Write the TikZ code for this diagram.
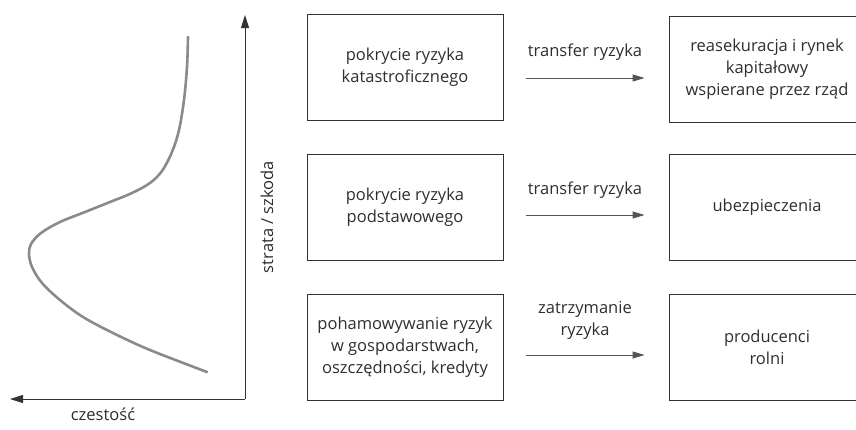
\documentclass[tikz,border=0pt]{standalone}
\usepackage{fontspec}
\setmainfont{Open Sans}
\usetikzlibrary{arrows.meta}
\definecolor{txt}{HTML}{2E2E2E}
\definecolor{boxc}{HTML}{333333}
\definecolor{arrc}{HTML}{555555}
\definecolor{curvec}{HTML}{8A8A8A}
\begin{document}
\begin{tikzpicture}[x=1pt,y=-1pt,
  box/.style={draw=boxc, line width=0.9pt, minimum width=196pt, minimum height=106pt, inner sep=0pt, align=center, text=txt, font=\fontsize{16.5}{22}\selectfont},
  lab/.style={text=txt, align=center, inner sep=0pt, font=\fontsize{16.5}{22}\selectfont},
  flow/.style={draw=arrc, line width=0.9pt, -{Triangle[length=12pt,width=7pt]}},
  axis/.style={draw=boxc, line width=0.9pt, -{Triangle[length=13pt,width=8pt]}},
  ]
\useasboundingbox (0,0) rectangle (856,429);
\clip (0,0) rectangle (856,429);
% axes
\coordinate (O) at (245,399);
\coordinate (Ytip) at (245,15);
\coordinate (Xtip) at (10,399);
\draw[axis] (O) -- (Ytip);
\draw[axis] (O) -- (Xtip);
\node[lab, rotate=90] (ylab) at (267,217) {strata / szkoda};
\node[lab] (xlab) at (103,414) {czestość};
% curve
\draw[curvec, line width=2.6pt, line cap=round] plot[smooth, tension=0.55] coordinates {
 (188,37) (187,67) (184,100) (179,130) (172,152) (162,171) (150,183) (132,193) (110,202) (85,212) (60,222) (41,233) (31,244) (29,254) (32,267) (42,283) (60,300) (83,317) (113,333) (150,350) (207,372)};
% boxes
\node[box] (l1) at (405,67) {pokrycie ryzyka\\katastroficznego};
\node[box] (l2) at (405,207) {pokrycie ryzyka\\podstawowego};
\node[box] (l3) at (405,347) {pohamowywanie ryzyk\\w gospodarstwach,\\oszczędności, kredyty};
\node[box] (r1) at (767,69) {reasekuracja i rynek\\kapitałowy\\wspierane przez rząd};
\node[box] (r2) at (767,207) {ubezpieczenia};
\node[box] (r3) at (767,347) {producenci\\rolni};
% arrows
\draw[flow] ([xshift=23pt,yshift=-11pt]l1.east) -- ([xshift=-24pt,yshift=-9pt]r1.west);
\draw[flow] ([xshift=23pt,yshift=-8pt]l2.east) -- ([xshift=-24pt,yshift=-8pt]r2.west);
\draw[flow] ([xshift=23pt,yshift=-8pt]l3.east) -- ([xshift=-24pt,yshift=-8pt]r3.west);
\node[lab] (t1) at (585,52) {transfer ryzyka};
\node[lab] (t2) at (585,190) {transfer ryzyka};
\node[lab] (t3) at (585,320) {zatrzymanie\\ryzyka};
\end{tikzpicture}
\end{document}
